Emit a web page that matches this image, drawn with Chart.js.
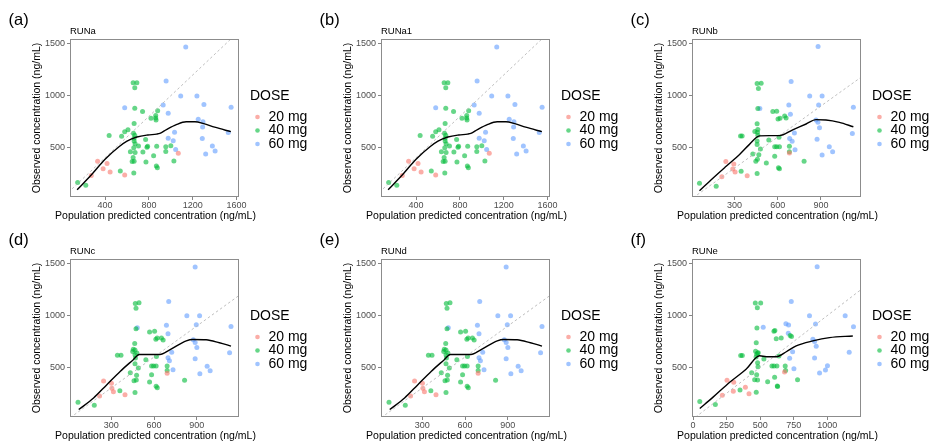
<!DOCTYPE html>
<html><head><meta charset="utf-8">
<script src="https://cdn.jsdelivr.net/npm/chart.js@4.4.1/dist/chart.umd.min.js"></script>
<style>
html,body{margin:0;padding:0;background:#fff;width:935px;height:446px;overflow:hidden;position:relative}
canvas{position:absolute}
</style></head><body>
<canvas id="c0" style="left:0px;top:0px" width="311" height="223"></canvas>
<canvas id="c1" style="left:311px;top:0px" width="311" height="223"></canvas>
<canvas id="c2" style="left:622px;top:0px" width="311" height="223"></canvas>
<canvas id="c3" style="left:0px;top:220px" width="311" height="223"></canvas>
<canvas id="c4" style="left:311px;top:220px" width="311" height="223"></canvas>
<canvas id="c5" style="left:622px;top:220px" width="311" height="223"></canvas>
<script>
// ---------- data ----------
const doseLabels = ['20 mg', '40 mg', '60 mg'];
const panelLabels = ['(a)', '(b)', '(c)', '(d)', '(e)', '(f)'];
const runNames = ['RUNa', 'RUNa1', 'RUNb', 'RUNc', 'RUNd', 'RUNe'];
const xTitle = 'Population predicted concentration (ng/mL)';
const yTitle = 'Observed concentration (ng/mL)';
const legendTitle = 'DOSE';
const identityLine = [[-100, -100], [2000, 2000]];
const yTicks = [500, 1000, 1500];
const xTicksA = [400, 800, 1200, 1600];
const xTicksC = [300, 600, 900];
const xTicksF = [0, 250, 500, 750, 1000];

// RUNa / RUNa1 : [PRED, OBS]
const runA_20 = [[1068,444],[332,366],[418,343],[382,294],[446,261],[274,229],[579,232]];
const runA_40 = [[150,160],[224,134],[437,614],[551,608],[579,650],[609,670],[656,1125],[690,1125],[671,1076],[671,879],[742,847],[665,732],[819,781],[862,807],[862,784],[865,765],[880,853],[659,637],[671,618],[665,588],[665,562],[770,575],[674,536],[705,513],[662,497],[788,510],[782,500],[871,510],[954,506],[1000,516],[954,461],[631,458],[674,451],[745,454],[843,418],[656,402],[665,366],[647,363],[773,359],[868,320],[877,304],[1028,369],[539,271],[662,251]];
const runA_60 = [[1136,1470],[957,1141],[1090,997],[1238,997],[1302,915],[930,909],[579,883],[1550,889],[976,830],[1250,771],[1293,748],[1290,696],[1034,647],[1524,644],[976,588],[1022,565],[1287,585],[1044,480],[1379,513],[1404,464],[1318,435]];
const runA_loess = [[145,90],[280,240],[400,385],[530,508],[600,560],[690,600],[790,620],[870,628],[900,635],[960,672],[1050,720],[1140,748],[1220,748],[1300,730],[1400,695],[1548,652]];

// RUNb
const runB_20 = [[681,445],[240,363],[295,340],[288,290],[304,261],[212,215],[388,225]];
const runB_40 = [[57,153],[173,124],[342,611],[353,611],[441,654],[459,647],[457,1118],[485,1121],[466,1069],[462,876],[566,847],[593,850],[457,729],[602,774],[616,781],[648,804],[658,784],[462,673],[462,618],[538,571],[457,561],[457,528],[480,483],[579,507],[593,507],[612,507],[609,598],[681,510],[427,435],[469,428],[579,415],[459,386],[448,366],[521,350],[605,304],[612,294],[783,366],[346,268],[457,248],[681,457]];
const runB_60 = [[880,1475],[693,1138],[822,997],[908,997],[884,909],[677,909],[476,876],[1125,889],[688,820],[866,765],[879,742],[890,690],[716,640],[1118,634],[683,585],[700,559],[873,578],[720,477],[958,507],[981,457],[908,425]];
const runB_loess = [[57,80],[150,202],[242,317],[335,431],[404,529],[473,611],[543,614],[612,614],[704,670],[797,726],[866,768],[935,765],[1028,742],[1125,699]];

// RUNc / RUNd
const runC_20 = [[692,442],[247,368],[302,346],[305,297],[316,265],[219,223],[397,236]];
const runC_40 = [[68,162],[182,133],[344,616],[369,616],[451,654],[467,667],[469,1117],[495,1124],[474,1072],[474,873],[569,841],[604,850],[465,731],[613,773],[622,783],[652,783],[664,764],[455,675],[467,622],[543,574],[467,535],[490,494],[583,513],[597,513],[615,513],[692,513],[617,606],[434,449],[460,371],[476,378],[583,429],[478,423],[569,359],[615,317],[623,304],[814,375],[361,273],[467,257],[692,470],[470,590],[480,640]];
const runC_60 = [[888,1471],[703,1137],[830,998],[919,998],[896,912],[687,908],[483,883],[1139,895],[698,825],[875,767],[888,741],[900,693],[724,645],[1129,641],[698,593],[708,564],[888,584],[733,477],[972,510],[993,468],[921,439]];
const runC_loess = [[73,92],[177,204],[270,333],[363,461],[455,574],[497,625],[571,625],[641,625],[710,670],[826,757],[872,770],[965,767],[1058,738],[1139,706]];

// RUNe
const runE_20 = [[682,455],[253,375],[303,356],[390,308],[300,269],[218,231],[417,244]];
const runE_40 = [[50,170],[166,141],[355,615],[367,615],[466,657],[481,638],[464,1122],[504,1122],[479,1077],[476,881],[603,849],[610,856],[471,737],[620,776],[657,785],[724,808],[734,798],[474,628],[486,641],[528,580],[640,609],[481,545],[484,506],[588,513],[603,513],[625,513],[687,513],[437,449],[459,381],[481,378],[608,404],[474,429],[556,362],[628,320],[630,314],[779,381],[350,282],[471,260],[470,600],[690,470]];
const runE_60 = [[925,1474],[732,1138],[868,1000],[1134,1000],[913,920],[692,923],[712,910],[523,888],[1196,894],[710,830],[893,772],[906,750],[918,705],[742,651],[1164,647],[720,587],[906,590],[752,487],[1002,516],[987,474],[943,445]];
const runE_loess = [[50,103],[149,212],[273,356],[397,484],[496,612],[546,603],[620,603],[695,651],[769,708],[893,756],[1017,788],[1191,804]];

// ---------- style ----------
const FONT = "'Liberation Sans', Arial, Helvetica, sans-serif";
const doseColors = ['248,118,109', '0,186,56', '97,156,255'];
const ALPHA = 0.6;

const panels = [
  { pts: [runA_20, runA_40, runA_60], loess: runA_loess, xMin: 80, xMax: 1622, xTicks: xTicksA },
  { pts: [runA_20, runA_40, runA_60], loess: runA_loess, xMin: 80, xMax: 1622, xTicks: xTicksA },
  { pts: [runB_20, runB_40, runB_60], loess: runB_loess, xMin: 5, xMax: 1178, xTicks: xTicksC },
  { pts: [runC_20, runC_40, runC_60], loess: runC_loess, xMin: 12, xMax: 1195, xTicks: xTicksC },
  { pts: [runC_20, runC_40, runC_60], loess: runC_loess, xMin: 12, xMax: 1195, xTicks: xTicksC },
  { pts: [runE_20, runE_40, runE_60], loess: runE_loess, xMin: -8, xMax: 1252, xTicks: xTicksF }
];
const Y_MIN = 20, Y_MAX = 1548;

const toXY = arr => arr.map(p => ({ x: p[0], y: p[1] }));

const decor = {
  id: 'decor',
  afterDraw(chart, args, o) {
    const ctx = chart.ctx, a = chart.chartArea;
    ctx.save();
    // panel border
    ctx.strokeStyle = '#8c8c8c';
    ctx.lineWidth = 1;
    ctx.strokeRect(Math.round(a.left) + 0.5, Math.round(a.top) + 0.5,
      Math.round(a.right - a.left) - 1, Math.round(a.bottom - a.top) - 1);
    ctx.fillStyle = '#000';
    ctx.textBaseline = 'middle';
    ctx.textAlign = 'left';
    // panel label
    ctx.font = '16.5px ' + FONT;
    ctx.fillText(o.label, 8.5, 20.5);
    // run name
    ctx.font = '9.5px ' + FONT;
    ctx.fillText(o.run, a.left, 31);
    // x-axis title (drawn here so it is not squeezed to the plot width)
    ctx.font = '10.5px ' + FONT;
    ctx.textAlign = 'center';
    ctx.fillText(xTitle, (a.left + a.right) / 2 + 1, 216.5);
    ctx.textAlign = 'left';
    // legend
    ctx.font = '14px ' + FONT;
    ctx.fillText(legendTitle, 250, 96);
    const ys = [117, 130.5, 144];
    doseLabels.forEach((d, i) => {
      ctx.fillStyle = 'rgba(' + doseColors[i] + ',' + ALPHA + ')';
      ctx.beginPath();
      ctx.arc(257.5, ys[i], 2.3, 0, Math.PI * 2);
      ctx.fill();
      ctx.fillStyle = '#000';
      ctx.fillText(d, 268.5, ys[i]);
    });
    ctx.restore();
  }
};

panels.forEach((p, k) => {
  const datasets = [
    { label: 'loess', data: toXY(p.loess), showLine: true, borderColor: '#000', borderWidth: 1.4,
      pointRadius: 0, cubicInterpolationMode: 'monotone', order: 0 },
    { label: 'identity', data: toXY(identityLine), showLine: true, borderColor: '#b8b8b8', borderWidth: 0.9,
      borderDash: [2.5, 2.5], pointRadius: 0, order: 1 }
  ];
  [2, 1, 0].forEach(i => {
    datasets.push({ label: doseLabels[i], data: toXY(p.pts[i]),
      backgroundColor: 'rgba(' + doseColors[i] + ',' + ALPHA + ')', borderWidth: 0,
      pointRadius: 2.5, pointHoverRadius: 2.5, order: 2 + i });
  });
  new Chart(document.getElementById('c' + k), {
    type: 'scatter',
    data: { datasets },
    options: {
      responsive: false, animation: false, devicePixelRatio: 1,
      events: [],
      layout: { padding: { left: 0, top: 39, right: 72, bottom: 0 } },
      plugins: {
        legend: { display: false }, tooltip: { enabled: false },
        decor: { label: panelLabels[k], run: runNames[k] }
      },
      scales: {
        x: {
          type: 'linear', position: 'bottom', min: p.xMin, max: p.xMax,
          afterBuildTicks: s => { s.ticks = p.xTicks.map(v => ({ value: v })); },
          afterFit: s => { s.height = 26; },
          ticks: { font: { family: FONT, size: 9 }, color: '#4d4d4d', padding: 0, maxRotation: 0, autoSkip: false,
                   callback: v => String(v) },
          grid: { drawOnChartArea: false, drawTicks: true, tickLength: 3, tickColor: '#666', tickWidth: 0.8 },
          border: { display: false },
          title: { display: false }
        },
        y: {
          type: 'linear', position: 'left', min: Y_MIN, max: Y_MAX,
          afterBuildTicks: s => { s.ticks = yTicks.map(v => ({ value: v })); },
          afterFit: s => { s.width = 70; },
          ticks: { font: { family: FONT, size: 9 }, color: '#4d4d4d', padding: 2, callback: v => String(v) },
          grid: { drawOnChartArea: false, drawTicks: true, tickLength: 3, tickColor: '#666', tickWidth: 0.8 },
          border: { display: false },
          title: { display: true, text: yTitle, font: { family: FONT, size: 10.5 }, color: '#000', padding: { top: 31, bottom: 0 } }
        }
      }
    },
    plugins: [decor]
  });
});
</script>
</body></html>
